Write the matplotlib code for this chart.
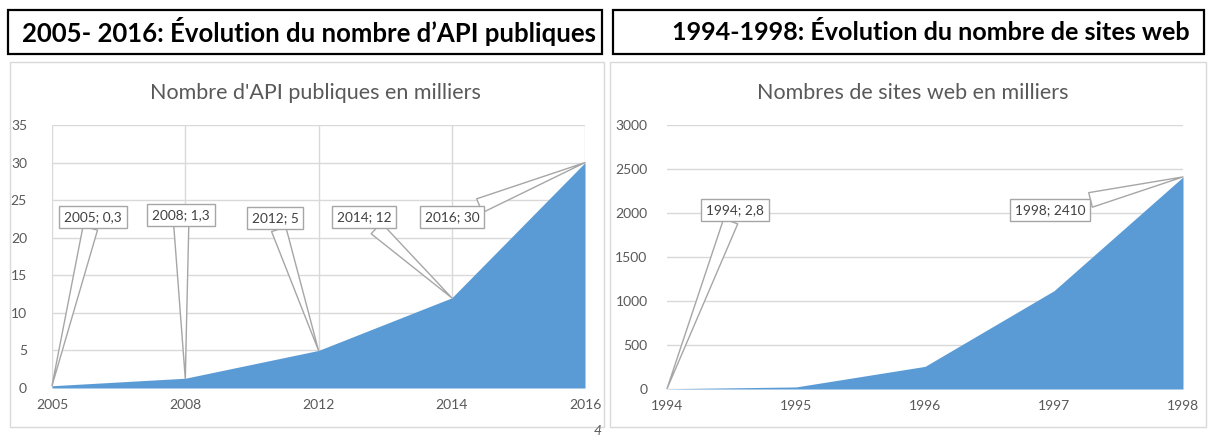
"""
Two Excel-style area charts: public APIs 2005-2016 and web sites 1994-1998
"""
import matplotlib
matplotlib.use("Agg")
import matplotlib.pyplot as plt
from matplotlib.patches import Rectangle

api_years = ['2005', '2008', '2012', '2014', '2016']
api_values = [0.3, 1.3, 5, 12, 30]
web_years = ['1994', '1995', '1996', '1997', '1998']
web_values = [2.8, 23.5, 257, 1117, 2410]
web_labeled = [0, 4]

W, H = 1208, 437
BLUE = '#5b9bd5'
GRID = '#d9d9d9'
TXT = '#595959'

plt.rcParams['font.family'] = ['Lato', 'DejaVu Sans']

fig = plt.figure(figsize=(W / 100, H / 100), dpi=100)
fig.patch.set_facecolor('white')


def fx(x):
    return x / W


def fy(y):
    return 1 - y / H


def frame(x0, y0, x1, y1, color, lw):
    fig.patches.append(Rectangle((fx(x0), fy(y1)), fx(x1 - x0), (y1 - y0) / H,
                                 transform=fig.transFigure, fill=False,
                                 ec=color, lw=lw))


def make_axes(x0, y0, x1, y1):
    ax = fig.add_axes([fx(x0), fy(y1), fx(x1 - x0), (y1 - y0) / H])
    for s in ax.spines.values():
        s.set_visible(False)
    ax.tick_params(length=0, colors=TXT, labelsize=10)
    ax.set_axisbelow(True)
    return ax


def label_text(year, v):
    return f"{year}; " + f"{v:g}".replace('.', ',')


def callout(ax, i, v, text, pos):
    ax.annotate(text, xy=(i, v), xycoords='data',
                xytext=(pos[0], H - pos[1]), textcoords='figure pixels',
                ha='center', va='center', fontsize=9.8, color='#404040',
                bbox=dict(boxstyle='square,pad=0.35', fc='white', ec='#a6a6a6', lw=1),
                arrowprops=dict(arrowstyle='wedge,tail_width=1.1', fc='white',
                                ec='#a6a6a6', lw=1, shrinkA=0, shrinkB=0),
                zorder=5)


# header boxes
frame(8, 10, 602, 54, 'black', 1.6)
frame(613, 10, 1204, 54, 'black', 1.6)
fig.text(fx(309), fy(32), "2005- 2016: Évolution du nombre d’API publiques",
         ha='center', va='center', fontsize=18.5, fontweight='bold')
fig.text(fx(931), fy(32), "1994-1998: Évolution du nombre de sites web",
         ha='center', va='center', fontsize=18.1, fontweight='bold')

# chart boxes
frame(10, 62, 604, 427, GRID, 1)
frame(610, 62, 1206, 427, GRID, 1)

# left chart
ax1 = make_axes(52, 125, 585, 388)
x1 = list(range(len(api_years)))
ax1.fill_between(x1, api_values, color=BLUE, lw=0, zorder=2)
ax1.set_xlim(0, len(api_years) - 1)
ax1.set_ylim(0, 35)
ax1.set_yticks(range(0, 36, 5))
ax1.set_xticks(x1)
ax1.set_xticklabels(api_years)
ax1.grid(True, color=GRID, lw=1)
ax1.tick_params(axis='y', pad=18)
ax1.tick_params(axis='x', pad=8)
fig.text(fx(315), fy(93), "Nombre d'API publiques en milliers", ha='center',
         va='center', fontsize=15.5, color=TXT)

api_pos = [(93, 217), (181, 215), (275, 218), (364, 217), (452, 217)]
for i, v in enumerate(api_values):
    callout(ax1, i, v, label_text(api_years[i], v), api_pos[i])

# right chart
ax2 = make_axes(667, 125, 1183, 389)
x2 = list(range(len(web_years)))
ax2.fill_between(x2, web_values, color=BLUE, lw=0, zorder=2)
ax2.set_xlim(0, len(web_years) - 1)
ax2.set_ylim(0, 3000)
ax2.set_yticks(range(0, 3001, 500))
ax2.set_xticks(x2)
ax2.set_xticklabels(web_years)
ax2.grid(True, axis='y', color=GRID, lw=1)
ax2.tick_params(axis='y', pad=14)
ax2.tick_params(axis='x', pad=8)
fig.text(fx(913), fy(93), "Nombres de sites web en milliers", ha='center',
         va='center', fontsize=15.5, color=TXT)

web_pos = {0: (735, 210), 4: (1050, 210)}
for i in web_labeled:
    callout(ax2, i, web_values[i], label_text(web_years[i], web_values[i]), web_pos[i])

fig.text(fx(598), fy(431), "4", ha='center', va='center', fontsize=10,
         style='italic', color='#595959')

fig.savefig('out.png', dpi=100, facecolor='white')
